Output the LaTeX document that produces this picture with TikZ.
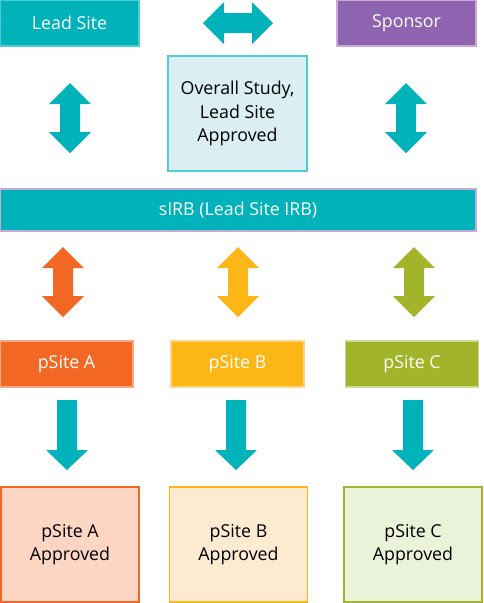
\documentclass[tikz,border=0pt]{standalone}
\usepackage{fontspec}
\setmainfont{Open Sans}
\usepackage{tikz}

\definecolor{irbteal}{RGB}{0,178,185}
\definecolor{tealedge}{RGB}{80,205,210}
\definecolor{lightblue}{RGB}{218,238,243}
\definecolor{sponsorpurple}{RGB}{142,99,176}
\definecolor{purpleedge}{RGB}{200,170,215}
\definecolor{siteorange}{RGB}{242,103,35}
\definecolor{siteyellow}{RGB}{252,183,22}
\definecolor{sitegreen}{RGB}{161,180,42}
\definecolor{lightorange}{RGB}{252,213,195}
\definecolor{lightyellow}{RGB}{252,235,209}
\definecolor{lightgreen}{RGB}{235,242,218}

\tikzset{
  box/.style={rectangle, inner sep=0pt, line width=1.2pt, align=center,
    font=\fontsize{17.8}{23.3}\selectfont},
  headbox/.style={box, minimum width=139pt, minimum height=46pt, text=white},
  sitebox/.style={box, minimum width=133pt, minimum height=46pt, text=white},
  approvedbox/.style={box, minimum width=138pt, minimum height=115pt, text=black},
  dblarrow/.pic={
    \fill (0,-35) -- (21,-14) -- (10,-14) -- (10,14) -- (21,14) -- (0,35)
      -- (-21,14) -- (-10,14) -- (-10,-14) -- (-21,-14) -- cycle;
  },
  downarrow/.pic={
    \fill (-10,-35) -- (10,-35) -- (10,15) -- (21,15) -- (0,35)
      -- (-21,15) -- (-10,15) -- cycle;
  }
}

\begin{document}
\begin{tikzpicture}[x=1pt, y=-1pt]

	\useasboundingbox (0,0) rectangle (483,603);

	% top row
	\node[headbox, fill=irbteal, draw=tealedge] (lead) at (69.5,23) {Lead Site};
	\node[headbox, fill=sponsorpurple, draw=purpleedge] (sponsor) at (406.5,23) {Sponsor};
	\node[box, minimum width=139pt, minimum height=115pt, fill=lightblue, draw=tealedge] (overall)
		at (237.5,113.5) {Overall Study,\\Lead Site\\Approved};

	\pic[fill=irbteal, rotate=90] (leadsponsor) at (238,23) {dblarrow};
	\pic[fill=irbteal] (leadirb) at (70,118) {dblarrow};
	\pic[fill=irbteal] (sponsorirb) at (406,118) {dblarrow};

	% single IRB
	\node[box, minimum width=476pt, minimum height=42pt, fill=irbteal, draw=purpleedge, text=white]
		(sirb) at (238,210) {sIRB (Lead Site IRB)};

	\pic[fill=siteorange] (irba) at (63,282) {dblarrow};
	\pic[fill=siteyellow] (irbb) at (238,282) {dblarrow};
	\pic[fill=sitegreen] (irbc) at (414,282) {dblarrow};

	% participating sites
	\node[sitebox, fill=siteorange, draw=lightorange!60!siteorange] (psitea) at (66.5,364) {pSite A};
	\node[sitebox, fill=siteyellow, draw=lightyellow!60!siteyellow] (psiteb) at (237.5,364) {pSite B};
	\node[sitebox, fill=sitegreen, draw=lightgreen!60!sitegreen] (psitec) at (412,364) {pSite C};

	\pic[fill=irbteal] (downa) at (67,435) {downarrow};
	\pic[fill=irbteal] (downb) at (236,435) {downarrow};
	\pic[fill=irbteal] (downc) at (413,435) {downarrow};

	% approvals
	\node[approvedbox, fill=lightorange, draw=siteorange] (appa) at (70,544.5) {pSite A\\Approved};
	\node[approvedbox, fill=lightyellow, draw=siteyellow] (appb) at (238.5,544.5) {pSite B\\Approved};
	\node[approvedbox, fill=lightgreen, draw=sitegreen] (appc) at (413,544.5) {pSite C\\Approved};

\end{tikzpicture}
\end{document}
